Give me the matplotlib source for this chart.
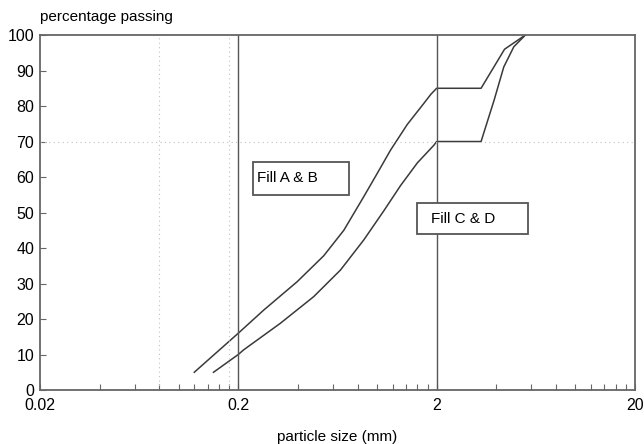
import matplotlib
matplotlib.use('Agg')
import matplotlib.pyplot as plt
from matplotlib.patches import Rectangle
from matplotlib.ticker import FixedLocator, NullLocator, NullFormatter

plt.rcParams['font.family'] = ['Liberation Sans', 'DejaVu Sans']

# grading curves (size in mm, percentage passing)
fill_ab_size = [0.12, 0.2, 0.2685, 0.396, 0.539, 0.681, 0.859, 1.003, 1.172, 1.422,
                1.727, 1.87, 2.0, 3.35, 4.4, 5.6]
fill_ab_pct = [5, 16, 22.5, 30.5, 37.8, 45, 54.5, 61, 67.6, 74.8,
               80.8, 83.3, 85, 85, 96, 100]

fill_cd_size = [0.15, 0.2, 0.2127, 0.326, 0.48, 0.655, 0.859, 1.084, 1.316, 1.6, 1.94, 2.0,
                3.35, 3.9, 4.36, 4.9, 5.6]
fill_cd_pct = [5, 10, 11.3, 18.8, 26.3, 33.8, 42.3, 50.5, 57.6, 64, 69, 70,
               70, 81.7, 91, 96.7, 100]

x_labels = ['0.02', '0.2', '2', '20']
x_major = [0.02, 0.2, 2, 20]
y_major = list(range(0, 101, 10))
# small ticks at multiples of 2 within each decade
x_minor = [m * d for d in (0.01, 0.1, 1) for m in range(4, 20, 2)]

fig = plt.figure(figsize=(6.44, 4.44), dpi=100)
ax = fig.add_axes([0.062, 0.1216, 0.924, 0.7995])

line_col = '#3a3a3a'
ax.plot(fill_ab_size, fill_ab_pct, color=line_col, lw=1.1)
ax.plot(fill_cd_size, fill_cd_pct, color=line_col, lw=1.1)

# sieve divisions
for xv in (0.2, 2):
    ax.axvline(xv, color='#555555', lw=1.0)
for xv in (0.08, 0.18):
    ax.axvline(xv, color='#c0c0c0', lw=0.8, ls=(0, (1, 3)))
ax.axhline(70, color='#c0c0c0', lw=0.8, ls=(0, (1, 3)))

ax.set_xscale('log')
ax.set_xlim(0.02, 20)
ax.set_ylim(0, 100)

ax.xaxis.set_major_locator(FixedLocator(x_major))
ax.set_xticklabels(x_labels)
ax.xaxis.set_minor_locator(FixedLocator(x_minor))
ax.xaxis.set_minor_formatter(NullFormatter())
ax.yaxis.set_major_locator(FixedLocator(y_major))
ax.yaxis.set_minor_locator(NullLocator())

ax.tick_params(axis='x', which='both', direction='in', length=4, width=0.8,
               color='#666666', labelsize=11.5, pad=6)
ax.tick_params(axis='y', direction='in', length=4, width=0.8,
               color='#666666', labelsize=11.5, pad=4)

for sp in ax.spines.values():
    sp.set_color('#666666')
    sp.set_linewidth(1.3)

ax.set_xlabel('particle size (mm)', fontsize=11, labelpad=12)
fig.text(0.062, 0.945, 'percentage passing', fontsize=11, ha='left', va='bottom')

# label boxes
ax.add_patch(Rectangle((0.238, 54.9), 0.719 - 0.238, 64.2 - 54.9, fc='white',
                       ec='#555555', lw=1.3, zorder=3))
ax.text(0.249, 59.6, 'Fill A & B', fontsize=11, ha='left', va='center', zorder=4)
ax.add_patch(Rectangle((1.6, 43.9), 5.77 - 1.6, 52.7 - 43.9, fc='white',
                       ec='#555555', lw=1.3, zorder=3))
ax.text(1.87, 48.3, 'Fill C & D', fontsize=11, ha='left', va='center', zorder=4)

fig.savefig('out.png', dpi=100)
